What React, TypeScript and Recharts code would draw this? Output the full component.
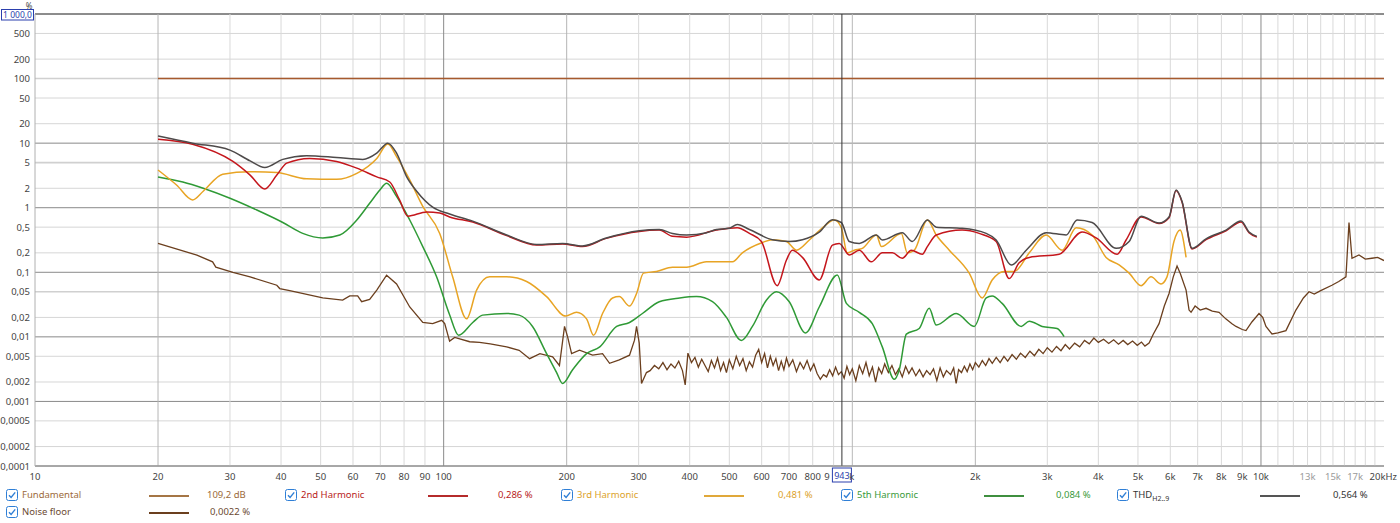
import React from 'react';
import { LineChart, Line, XAxis, YAxis, CartesianGrid, ReferenceLine } from 'recharts';

const FONT = '"Noto Sans", "Open Sans", sans-serif';

// ---------- data (frequency in Hz, level in %) ----------
const fundF = [20, 20000];
const fundV = [100, 100];

const thdF = [20, 24.3, 30, 33.6, 36.5, 40.4, 46.2, 54.7, 63.4, 68.6, 73, 76.7, 81.2, 85.9, 94, 103.4, 117.8, 142.6, 168.8, 195.4, 218.6, 250, 301, 337, 363, 393, 440, 465, 500, 523, 560, 637, 701, 755, 830, 894, 940, 983, 1040, 1145, 1184, 1325, 1402, 1526, 1605, 1857, 2126, 2249, 2448, 2664, 2981, 3336, 3549, 3862, 4421, 4757, 5089, 5631, 5957, 6197, 6411, 6782, 7337, 8212, 8937, 9348, 9773];
const thdV = [12.9, 10, 7.8, 5.3, 4.2, 5.6, 6.4, 6.0, 5.6, 7.0, 10, 7.0, 3.0, 1.8, 1.02, 0.8, 0.62, 0.378, 0.27, 0.28, 0.256, 0.34, 0.44, 0.46, 0.40, 0.378, 0.41, 0.46, 0.48, 0.55, 0.46, 0.32, 0.30, 0.32, 0.42, 0.65, 0.59, 0.30, 0.28, 0.378, 0.316, 0.41, 0.30, 0.645, 0.50, 0.48, 0.40, 0.316, 0.13, 0.22, 0.41, 0.378, 0.645, 0.59, 0.235, 0.30, 0.74, 0.58, 0.72, 1.88, 1.25, 0.235, 0.33, 0.45, 0.62, 0.42, 0.36];

const h2F = [20, 24.3, 30.5, 33.6, 36.5, 39.06, 41.3, 47, 54.7, 61.3, 68.6, 73.8, 78, 81.7, 90.9, 97.8, 103.4, 117.8, 142.6, 168.8, 195.4, 218.6, 250, 301, 337, 363, 393, 465, 523, 560, 599, 655, 690, 713, 755, 830, 894, 929, 983, 1040, 1113, 1184, 1253, 1325, 1394, 1483, 1526, 1605, 1857, 2044, 2249, 2420, 2560, 2710, 3207, 3650, 3950, 4446, 4677, 5089, 5631, 5957, 6197, 6411, 6782, 7337, 8212, 8937, 9348, 9773];
const h2V = [11.5, 9.6, 5.2, 3.2, 1.95, 3.2, 4.9, 5.8, 5.2, 4.1, 3.0, 2.5, 1.32, 0.74, 0.86, 0.83, 0.72, 0.6, 0.37, 0.265, 0.275, 0.25, 0.335, 0.43, 0.45, 0.36, 0.35, 0.45, 0.49, 0.40, 0.30, 0.062, 0.155, 0.22, 0.17, 0.076, 0.264, 0.28, 0.185, 0.22, 0.145, 0.20, 0.20, 0.165, 0.22, 0.19, 0.25, 0.378, 0.45, 0.40, 0.30, 0.08, 0.14, 0.17, 0.19, 0.42, 0.34, 0.19, 0.316, 0.72, 0.57, 0.70, 1.85, 1.22, 0.23, 0.32, 0.44, 0.60, 0.41, 0.35];

const h3F = [20, 22.2, 24.3, 25.8, 28.8, 33.6, 39.06, 46.2, 54.7, 61.3, 68.6, 73, 76.7, 82.6, 88.9, 97.8, 105.2, 113.8, 120.4, 129.6, 142.6, 159.6, 178.6, 198.8, 211.4, 223.7, 232.7, 244.8, 259, 269, 285, 296.5, 308.3, 331.7, 363, 393, 439.5, 481, 509, 538, 603, 637, 690, 730, 785, 845, 904, 940, 972, 1011, 1058, 1145, 1178, 1318, 1363, 1418, 1526, 1605, 1727, 1932, 2079, 2199, 2353, 2489, 2710, 2981, 3262, 3529, 3862, 4178, 4496, 4757, 5089, 5383, 5694, 5889, 6124, 6339, 6557];
const h3V = [3.84, 2.25, 1.32, 1.8, 3.3, 3.6, 3.5, 2.8, 2.75, 3.4, 5.8, 9.7, 6.2, 2.7, 1.05, 0.40, 0.085, 0.019, 0.053, 0.085, 0.085, 0.072, 0.042, 0.021, 0.024, 0.019, 0.0106, 0.023, 0.040, 0.042, 0.030, 0.047, 0.097, 0.103, 0.12, 0.12, 0.145, 0.145, 0.145, 0.20, 0.29, 0.32, 0.30, 0.22, 0.316, 0.49, 0.645, 0.49, 0.20, 0.22, 0.235, 0.378, 0.25, 0.40, 0.20, 0.22, 0.645, 0.378, 0.22, 0.097, 0.040, 0.076, 0.103, 0.103, 0.20, 0.378, 0.22, 0.49, 0.378, 0.17, 0.13, 0.097, 0.062, 0.085, 0.066, 0.085, 0.30, 0.45, 0.17];

const h5F = [20, 23, 25.8, 30, 34.9, 40.4, 45.2, 50.6, 55.7, 61.3, 65.9, 69.8, 72.5, 76.7, 82.6, 88.9, 96.1, 103.4, 108.8, 117.8, 124.5, 142.6, 153, 165, 178.6, 189, 195.4, 206.8, 223.7, 241, 265, 285, 306.5, 337, 378, 415.6, 454.8, 492, 535, 569.5, 616, 652, 701, 768, 830, 919, 967, 1040, 1119, 1184, 1267, 1303, 1356, 1458, 1542, 1605, 1796, 1988, 2126, 2199, 2326, 2590, 2710, 2914, 3171, 3298];
const h5V = [3.0, 2.5, 2.0, 1.4, 0.92, 0.59, 0.40, 0.34, 0.378, 0.645, 1.17, 1.88, 2.4, 1.5, 0.645, 0.25, 0.085, 0.022, 0.0106, 0.0167, 0.0217, 0.023, 0.0217, 0.0145, 0.0055, 0.0028, 0.0019, 0.0031, 0.0055, 0.0070, 0.0145, 0.0167, 0.023, 0.035, 0.040, 0.042, 0.035, 0.020, 0.0088, 0.0145, 0.037, 0.050, 0.035, 0.0115, 0.029, 0.0906, 0.033, 0.024, 0.016, 0.0070, 0.0022, 0.0031, 0.011, 0.0135, 0.0277, 0.0152, 0.023, 0.0145, 0.040, 0.043, 0.033, 0.0145, 0.0175, 0.0145, 0.0135, 0.0101];

const noiseF = [20, 24.9, 27.2, 27.7, 30.5, 33.6, 39.06, 39.7, 42, 50.6, 56.6, 58.9, 61.6, 63, 65.9, 68.6, 72.5, 76.7, 82.6, 88.9, 94, 98.9, 100.6, 103.4, 106.4, 115.8, 122.4, 130, 142.6, 153, 162.3, 172, 184.8, 192, 197.6, 201, 205.6, 215, 231.4, 244.8, 254.7, 269, 285, 293.1, 296.5, 301, 304.9, 313.5,
  320, 328, 336, 344, 352, 360, 368, 376, 384, 390, 396, 404, 412, 420, 428, 436, 444, 452, 460, 468, 476, 484, 492, 500, 510, 520, 530, 540, 550, 560, 570, 580, 590, 600, 610, 620, 630, 640, 650, 660, 670, 680, 690, 700, 715, 730, 745, 760, 775, 790, 805, 820, 835, 850, 865, 880, 895, 910, 925, 940, 955, 970, 985,
  1000, 1020, 1040, 1060, 1080, 1100, 1120, 1140, 1160, 1180, 1200, 1225, 1250, 1275, 1300, 1325, 1350, 1375, 1400, 1430, 1460, 1490, 1520, 1550, 1580, 1610, 1640, 1670, 1700, 1740, 1770, 1795, 1820, 1850, 1880, 1910, 1940, 1970,
  2000, 2040, 2080, 2120, 2160, 2200, 2250, 2300, 2350, 2400, 2460, 2520, 2580, 2650, 2720, 2790, 2860, 2930, 3000, 3080, 3160, 3240, 3320, 3400, 3500, 3600, 3700, 3800, 3900, 4000, 4120, 4240, 4360, 4480, 4600, 4720, 4850, 4980, 5100, 5200, 5323, 5450, 5631, 5800, 5957, 6100, 6232, 6350, 6557, 6668, 6744, 6900, 7100, 7337, 7600, 7896, 8200, 8492, 8688, 9000, 9190, 9500, 9890,
  10100, 10285, 10640, 11000, 11510, 12175, 12700, 13108, 13500, 14000, 14912, 15500, 16140, 16420, 16700, 17370, 18000, 18680, 19300, 20000];
const noiseV = [0.28, 0.185, 0.145, 0.12, 0.10, 0.085, 0.063, 0.056, 0.052, 0.040, 0.037, 0.043, 0.043, 0.035, 0.038, 0.053, 0.09, 0.066, 0.029, 0.0167, 0.016, 0.018, 0.016, 0.0086, 0.0098, 0.0084, 0.0082, 0.0078, 0.0070, 0.0062, 0.0046, 0.0055, 0.0049, 0.0036, 0.0145, 0.0101, 0.0055, 0.0062, 0.0052, 0.0055, 0.0039, 0.0044, 0.0052, 0.0089, 0.0145, 0.008, 0.0019, 0.0028,
  0.0030, 0.0036, 0.0032, 0.0040, 0.0031, 0.0038, 0.0033, 0.0042, 0.0030, 0.0018, 0.0056, 0.0040, 0.0048, 0.0034, 0.0045, 0.0036, 0.0029, 0.0043, 0.0033, 0.0047, 0.0030, 0.0040, 0.0028, 0.0044, 0.0032, 0.0050, 0.0036, 0.0046, 0.0030, 0.0041, 0.0034, 0.0052, 0.0064, 0.0040, 0.0055, 0.0033, 0.0050, 0.0036, 0.0046, 0.0030, 0.0042, 0.0031, 0.0047, 0.0035, 0.0044, 0.0029, 0.0040, 0.0032, 0.0043, 0.0030, 0.0038, 0.0027, 0.0022, 0.0026, 0.0024, 0.0031, 0.0025, 0.0034, 0.0026, 0.0029, 0.0023, 0.0035, 0.0026,
  0.0032, 0.0021, 0.0036, 0.0027, 0.0040, 0.0025, 0.0034, 0.0020, 0.0033, 0.0027, 0.0038, 0.0028, 0.0036, 0.0026, 0.0032, 0.0024, 0.0035, 0.0027, 0.0033, 0.0025, 0.0031, 0.0024, 0.0030, 0.0026, 0.0032, 0.0021, 0.0033, 0.0024, 0.0030, 0.0026, 0.0033, 0.0019, 0.0031, 0.0028, 0.0035, 0.0029, 0.0038, 0.0031,
  0.0040, 0.0034, 0.0043, 0.0036, 0.0046, 0.0039, 0.0048, 0.0040, 0.0050, 0.0042, 0.0053, 0.0045, 0.0056, 0.0048, 0.0060, 0.0051, 0.0064, 0.0055, 0.0068, 0.0058, 0.0071, 0.0061, 0.0076, 0.0065, 0.0080, 0.0070, 0.0088, 0.0078, 0.0096, 0.0082, 0.0092, 0.0079, 0.0090, 0.0077, 0.0088, 0.0076, 0.0086, 0.0074, 0.0083, 0.0072, 0.0080, 0.0110, 0.016, 0.030, 0.047, 0.085, 0.125, 0.095, 0.053, 0.026, 0.024, 0.030, 0.026, 0.0277, 0.025, 0.024, 0.019, 0.016, 0.0145, 0.013, 0.0125, 0.017, 0.023,
  0.020, 0.0145, 0.0111, 0.0115, 0.0125, 0.026, 0.040, 0.050, 0.046, 0.052, 0.063, 0.072, 0.085, 0.59, 0.165, 0.185, 0.16, 0.165, 0.17, 0.152];

// ---------- axes ----------
const yTicks = [1000, 500, 200, 100, 50, 20, 10, 5, 2, 1, 0.5, 0.2, 0.1, 0.05, 0.02, 0.01, 0.005, 0.002, 0.001, 0.0005, 0.0002, 0.0001];
const xTicks = [10, 20, 30, 40, 50, 60, 70, 80, 90, 100, 200, 300, 400, 500, 600, 700, 800, 900, 1000, 2000, 3000, 4000, 5000, 6000, 7000, 8000, 9000, 10000, 13000, 15000, 17000, 20000];
const xTickLabels = ['10', '20', '30', '40', '50', '60', '70', '80', '90', '100', '200', '300', '400', '500', '600', '700', '800', '9', 'k', '2k', '3k', '4k', '5k', '6k', '7k', '8k', '9k', '10k', '13k', '15k', '17k', '20kHz'];
const xGrid = [20, 30, 40, 50, 60, 70, 80, 90, 100, 200, 300, 400, 500, 600, 700, 800, 900, 1000, 2000, 3000, 4000, 5000, 6000, 7000, 8000, 9000, 10000, 11000, 12000, 13000, 14000, 15000, 16000, 17000, 18000, 19000];
const cursorFreq = 943;

// ---------- legend ----------
const legendNames = ['Fundamental', '2nd Harmonic', '3rd Harmonic', '5th Harmonic', 'THD', 'Noise floor'];
const legendValues = ['109,2 dB', '0,286 %', '0,481 %', '0,084 %', '0,564 %', '0,0022 %'];
const lineColors = ['#a65a2e', '#c4161c', '#e8a424', '#2f9a36', '#4e4a4a', '#6b3f1e'];
const legendTextColors = ['#9c6a3a', '#b81c1c', '#dca22a', '#3a9a3a', '#333333', '#6b4a32'];
const legendSampleColors = ['#a57645', '#b52b2b', '#e0a83a', '#3f8f3f', '#555555', '#6b3f1e'];

const pts = (f: number[], v: number[]) => f.map((x, i) => ({ f: x, v: v[i] }));

const fmtY = (v: number) => String(v).replace('.', ',');

const isDecade = (v: number) => Math.abs(Math.log10(v) - Math.round(Math.log10(v))) < 1e-6;

const YTick = (props: any) => {
  const { x, y, payload } = props;
  const v = payload.value;
  if (v === 1000) {
    return (
      <g>
        <text x={29} y={9} textAnchor="middle" fontSize={8} fill="#444" fontFamily={FONT}>%</text>
        <rect x={1.5} y={y - 4.5} width={32} height={10.5} fill="#fff" stroke="#2b3fae" strokeWidth={1} />
        <text x={17.5} y={y + 4} textAnchor="middle" fontSize={8.5} fill="#2b3fae" fontFamily={FONT}>1 000,0</text>
      </g>
    );
  }
  return (
    <text x={x} y={y} dy={3.5} textAnchor="end" fontSize={9.5} fill="#444" fontFamily={FONT}>{fmtY(v)}</text>
  );
};

const XTick = (props: any) => {
  const { x, y, payload } = props;
  const idx = xTicks.indexOf(payload.value);
  const label = xTickLabels[idx] ?? '';
  const faint = label === '13k' || label === '15k' || label === '17k';
  let anchor: 'middle' | 'end' | 'start' = 'middle';
  let tx = x;
  if (label === '20kHz') { anchor = 'end'; tx = 1397; }
  if (label === '9') { anchor = 'end'; tx = x - 4; }
  if (label === 'k') { anchor = 'start'; tx = x - 3; }
  return (
    <text x={tx} y={y} dy={8} textAnchor={anchor} fontSize={9.5} fill={faint ? '#9a9a9a' : '#444'} fontFamily={FONT}>{label}</text>
  );
};

const hLine = (props: any) => {
  const { x1, x2, y1, y2, index } = props;
  const v = yTicks[index];
  let stroke = '#d6d6d6';
  let w = 1;
  if (v === 1000) { stroke = '#1a1a1a'; }
  else if (isDecade(v)) { stroke = '#8a8a8a'; }
  if (v === 100 || v === 5 || v === 0.05) { w = 1.6; stroke = '#d0d0d0'; }
  return <line key={'h' + index} x1={x1} x2={x2} y1={y1} y2={y2} stroke={stroke} strokeWidth={w} />;
};

const vLine = (props: any) => {
  const { x1, x2, y1, y2, index } = props;
  const v = xGrid[index];
  let stroke = '#d9d9d9';
  if (v === 100 || v === 10000) stroke = '#8a8a8a';
  else if (v === 1000) stroke = '#b8b8b8';
  else if (v === 20 || v === 200 || v === 2000) stroke = '#b5b5b5';
  return <line key={'v' + index} x1={x1} x2={x2} y1={y1} y2={y2} stroke={stroke} strokeWidth={1} />;
};

const CursorLabel = (props: any) => {
  const vb = props.viewBox || {};
  const cx = vb.x ?? 0;
  const bottom = (vb.y ?? 0) + (vb.height ?? 0);
  return (
    <g>
      <rect x={cx - 9.5} y={bottom + 2} width={19} height={14} fill="#fff" stroke="#2b3fae" strokeWidth={1} />
      <text x={cx} y={bottom + 12.5} textAnchor="middle" fontSize={9} fill="#2b3fae" fontFamily={FONT}>{cursorFreq}</text>
    </g>
  );
};

const CheckBox = () => (
  <svg width={12} height={12} viewBox="0 0 12 12" style={{ position: 'absolute', left: 0, top: 0 }}>
    <rect x={0.5} y={0.5} width={11} height={11} rx={2} fill="#fff" stroke="#2f7fd6" strokeWidth={1} />
    <path d="M3 6.2 L5.1 8.4 L9.2 3.4" fill="none" stroke="#2f7fd6" strokeWidth={1.4} />
  </svg>
);

const legendCols = [6, 285, 561, 841, 1117];
const valueLefts = [207, 498, 778, 1056, 1333, 210];

const LegendItem = ({ i, left, top }: { i: number; left: number; top: number }) => (
  <div style={{ position: 'absolute', left, top, width: 260, height: 14, fontFamily: FONT, fontSize: 9.5 }}>
    <CheckBox />
    <span style={{ position: 'absolute', left: 16, top: -1, color: legendTextColors[i], whiteSpace: 'nowrap' }}>
      {legendNames[i] === 'THD' ? (<span>THD<sub style={{ fontSize: 7 }}>H2..9</sub></span>) : legendNames[i]}
    </span>
    <div style={{ position: 'absolute', left: 143, top: 6, width: 40, height: 2, background: legendSampleColors[i] }} />
    <span style={{ position: 'absolute', left: valueLefts[i] - left, top: -1, color: legendTextColors[i], whiteSpace: 'nowrap' }}>{legendValues[i]}</span>
  </div>
);

export default function App() {
  return (
    <div style={{ position: 'absolute', left: 0, top: 0, width: 1400, height: 523, background: '#fff' }}>
      <LineChart width={1400} height={488} margin={{ top: 14, right: 16, bottom: 0, left: 0 }}>
        <CartesianGrid horizontalValues={yTicks} verticalValues={xGrid} horizontal={hLine} vertical={vLine} />
        <XAxis dataKey="f" type="number" scale="log" domain={[10, 20000]} allowDataOverflow ticks={xTicks} interval={0} tick={<XTick />} tickLine={false} axisLine={{ stroke: '#8a8a8a' }} height={22} tickSize={4} />
        <YAxis dataKey="v" type="number" scale="log" domain={[0.0001, 1000]} allowDataOverflow ticks={yTicks} interval={0} tick={<YTick />} tickLine={false} axisLine={{ stroke: '#b0b0b0' }} width={35} tickSize={3} />
        <Line data={pts(noiseF, noiseV)} dataKey="v" type="linear" stroke={lineColors[5]} strokeWidth={1.3} dot={false} isAnimationActive={false} />
        <Line data={pts(h5F, h5V)} dataKey="v" type="monotone" stroke={lineColors[3]} strokeWidth={1.5} dot={false} isAnimationActive={false} />
        <Line data={pts(h3F, h3V)} dataKey="v" type="monotone" stroke={lineColors[2]} strokeWidth={1.5} dot={false} isAnimationActive={false} />
        <Line data={pts(h2F, h2V)} dataKey="v" type="monotone" stroke={lineColors[1]} strokeWidth={1.5} dot={false} isAnimationActive={false} />
        <Line data={pts(thdF, thdV)} dataKey="v" type="monotone" stroke={lineColors[4]} strokeWidth={1.5} dot={false} isAnimationActive={false} />
        <Line data={pts(fundF, fundV)} dataKey="v" type="linear" stroke={lineColors[0]} strokeWidth={1.5} dot={false} isAnimationActive={false} />
        <ReferenceLine x={cursorFreq} stroke="#333" strokeWidth={1} label={<CursorLabel />} />
      </LineChart>
      {legendCols.map((left, c) => (
        <LegendItem key={c} i={c} left={left} top={489} />
      ))}
      <LegendItem i={5} left={legendCols[0]} top={506} />
    </div>
  );
}
